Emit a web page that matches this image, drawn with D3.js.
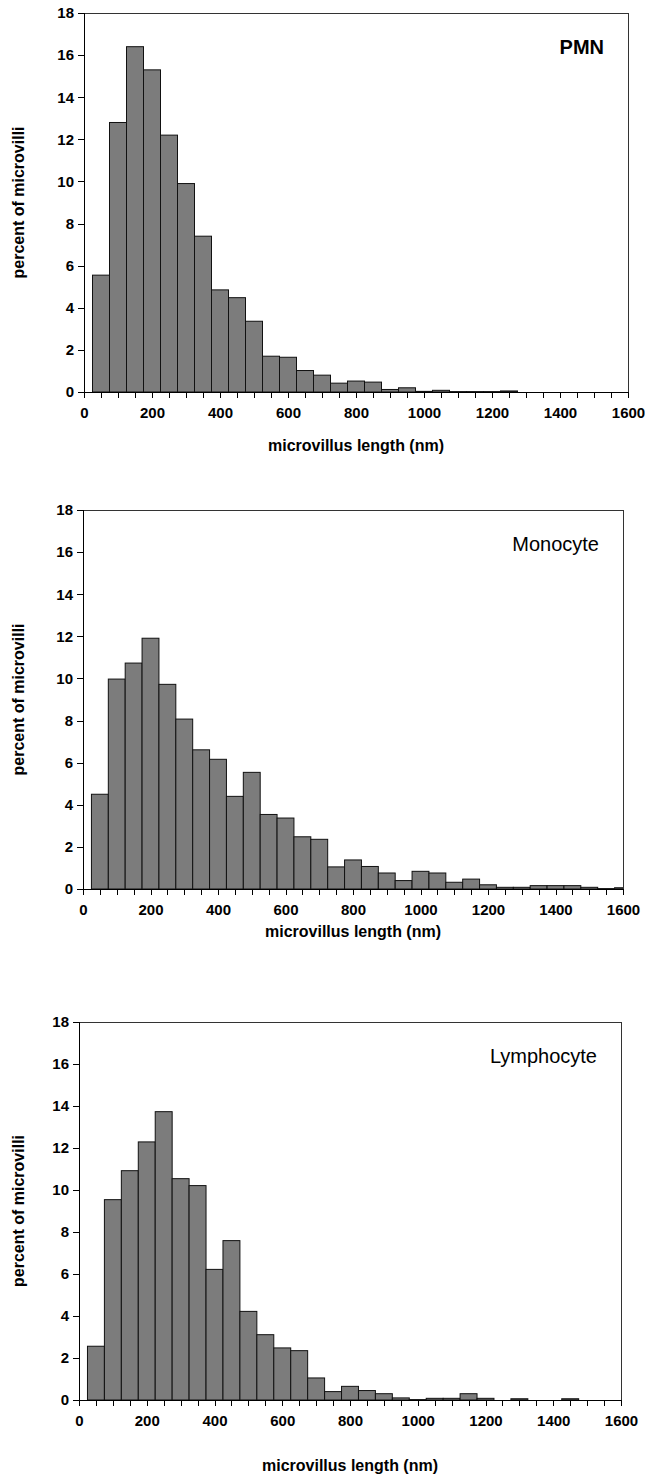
<!DOCTYPE html>
<meta charset="utf-8">
<head>
<title>Microvillus length histograms</title>
<style>
body { margin: 0; background: #fff; }
svg { display: block; }
.tick text { font: bold 15px "Liberation Sans", Arial, sans-serif; fill: #000; }
.axis path, .axis line { stroke: #000; shape-rendering: crispEdges; }
.frame { fill: none; stroke: #333; stroke-width: 1; shape-rendering: crispEdges; }
.bar { fill: #7c7c7c; stroke: #111; stroke-width: 1; }
.ylab, .xlab { font: bold 16px "Liberation Sans", Arial, sans-serif; }
.title { font: 20px "Liberation Sans", Arial, sans-serif; }
</style>
</head>
<body>
<script src="https://cdn.jsdelivr.net/npm/d3@7"></script>
<script>

// bin centres (nm), 50 nm wide bins
var binCenters = [50, 100, 150, 200, 250, 300, 350, 400, 450, 500, 550, 600, 650, 700, 750, 800,
                  850, 900, 950, 1000, 1050, 1100, 1150, 1200, 1250, 1300, 1350, 1400, 1450, 1500, 1550, 1600];

var pmn = [5.55, 12.8, 16.4, 15.3, 12.2, 9.9, 7.4, 4.85, 4.48, 3.36, 1.7, 1.65, 1.02, 0.8, 0.42, 0.52,
           0.47, 0.12, 0.2, 0.03, 0.08, 0.02, 0.02, 0.02, 0.05, 0, 0, 0, 0, 0, 0, 0];

var monocyte = [4.5, 9.97, 10.73, 11.91, 9.72, 8.07, 6.61, 6.16, 4.4, 5.54, 3.54, 3.37, 2.48, 2.36, 1.05, 1.38,
                1.07, 0.76, 0.4, 0.84, 0.76, 0.32, 0.47, 0.2, 0.08, 0.08, 0.16, 0.16, 0.16, 0.08, 0.02, 0.06];

var lymphocyte = [2.56, 9.54, 10.92, 12.29, 13.73, 10.54, 10.21, 6.22, 7.59, 4.22, 3.11, 2.48, 2.35, 1.05, 0.4, 0.65,
                  0.45, 0.3, 0.1, 0.02, 0.08, 0.08, 0.3, 0.08, 0, 0.06, 0, 0, 0.06, 0, 0, 0];

var panelNames = ["PMN", "Monocyte", "Lymphocyte"];
var yTicks = [0, 2, 4, 6, 8, 10, 12, 14, 16, 18];
var xTicks = [0, 200, 400, 600, 800, 1000, 1200, 1400, 1600];
var binWidth = 50;

// panel boxes on the page
var panels = [
    {values: pmn,        left: 84, right: 628, top: 13,   bottom: 392,  xlab: 451,  bold: true},
    {values: monocyte,   left: 83, right: 623, top: 510,  bottom: 889,  xlab: 937,  bold: false},
    {values: lymphocyte, left: 79, right: 621, top: 1022, bottom: 1400, xlab: 1471, bold: false}
];

var svg = d3.select("body").append("svg")
    .attr("width", 645)
    .attr("height", 1476);

panels.forEach(function(p, i) {

    var x = d3.scaleLinear().domain([0, 1600]).range([p.left, p.right]);
    var y = d3.scaleLinear().domain([0, 18]).range([p.bottom, p.top]);

    var g = svg.append("g");

    // clip bars at the plot box
    g.append("clipPath").attr("id", "clip" + i)
      .append("rect")
        .attr("x", p.left).attr("y", p.top)
        .attr("width", p.right - p.left).attr("height", p.bottom - p.top);

    // bars
    g.append("g").attr("clip-path", "url(#clip" + i + ")")
      .selectAll(".bar")
        .data(binCenters.map(function(c, k) { return {c: c, v: p.values[k]}; }))
        .enter().append("rect")
        .attr("class", "bar")
        .attr("x", function(d) { return x(d.c - binWidth / 2); })
        .attr("width", function(d) { return x(d.c + binWidth / 2) - x(d.c - binWidth / 2); })
        .attr("y", function(d) { return y(d.v); })
        .attr("height", function(d) { return y(0) - y(d.v); });

    // top / right frame
    g.append("path")
        .attr("class", "frame")
        .attr("d", "M" + p.left + "," + p.top + "H" + p.right + "V" + p.bottom);

    // x axis with minor ticks every 50
    var xa = g.append("g").attr("class", "axis")
        .attr("transform", "translate(0," + p.bottom + ")")
        .call(d3.axisBottom(x).tickValues(binCenters.concat([0])).tickSize(6).tickFormat(""));
    xa.select(".domain").remove();
    g.append("g").attr("class", "axis")
        .attr("transform", "translate(0," + p.bottom + ")")
        .call(d3.axisBottom(x).tickValues(xTicks).tickSize(6).tickPadding(9).tickFormat(d3.format("d")))
        .call(function(a) { a.select(".domain").attr("d", "M" + p.left + ",0H" + p.right); });

    // y axis
    g.append("g").attr("class", "axis")
        .attr("transform", "translate(" + p.left + ",0)")
        .call(d3.axisLeft(y).tickValues(yTicks).tickSize(6).tickPadding(4))
        .call(function(a) { a.select(".domain").attr("d", "M0," + p.top + "V" + p.bottom); });

    // labels
    g.append("text")
        .attr("class", "ylab")
        .attr("transform", "translate(24," + ((p.top + p.bottom) / 2) + ") rotate(-90)")
        .attr("text-anchor", "middle")
        .text("percent of microvilli");

    g.append("text")
        .attr("class", "xlab")
        .attr("x", (p.left + p.right) / 2)
        .attr("y", p.xlab)
        .attr("text-anchor", "middle")
        .text("microvillus length (nm)");

    g.append("text")
        .attr("class", "title")
        .attr("x", p.right - 24)
        .attr("y", p.top + 41)
        .attr("text-anchor", "end")
        .style("font-weight", p.bold ? "bold" : "normal")
        .text(panelNames[i]);
});

</script>
</body>
